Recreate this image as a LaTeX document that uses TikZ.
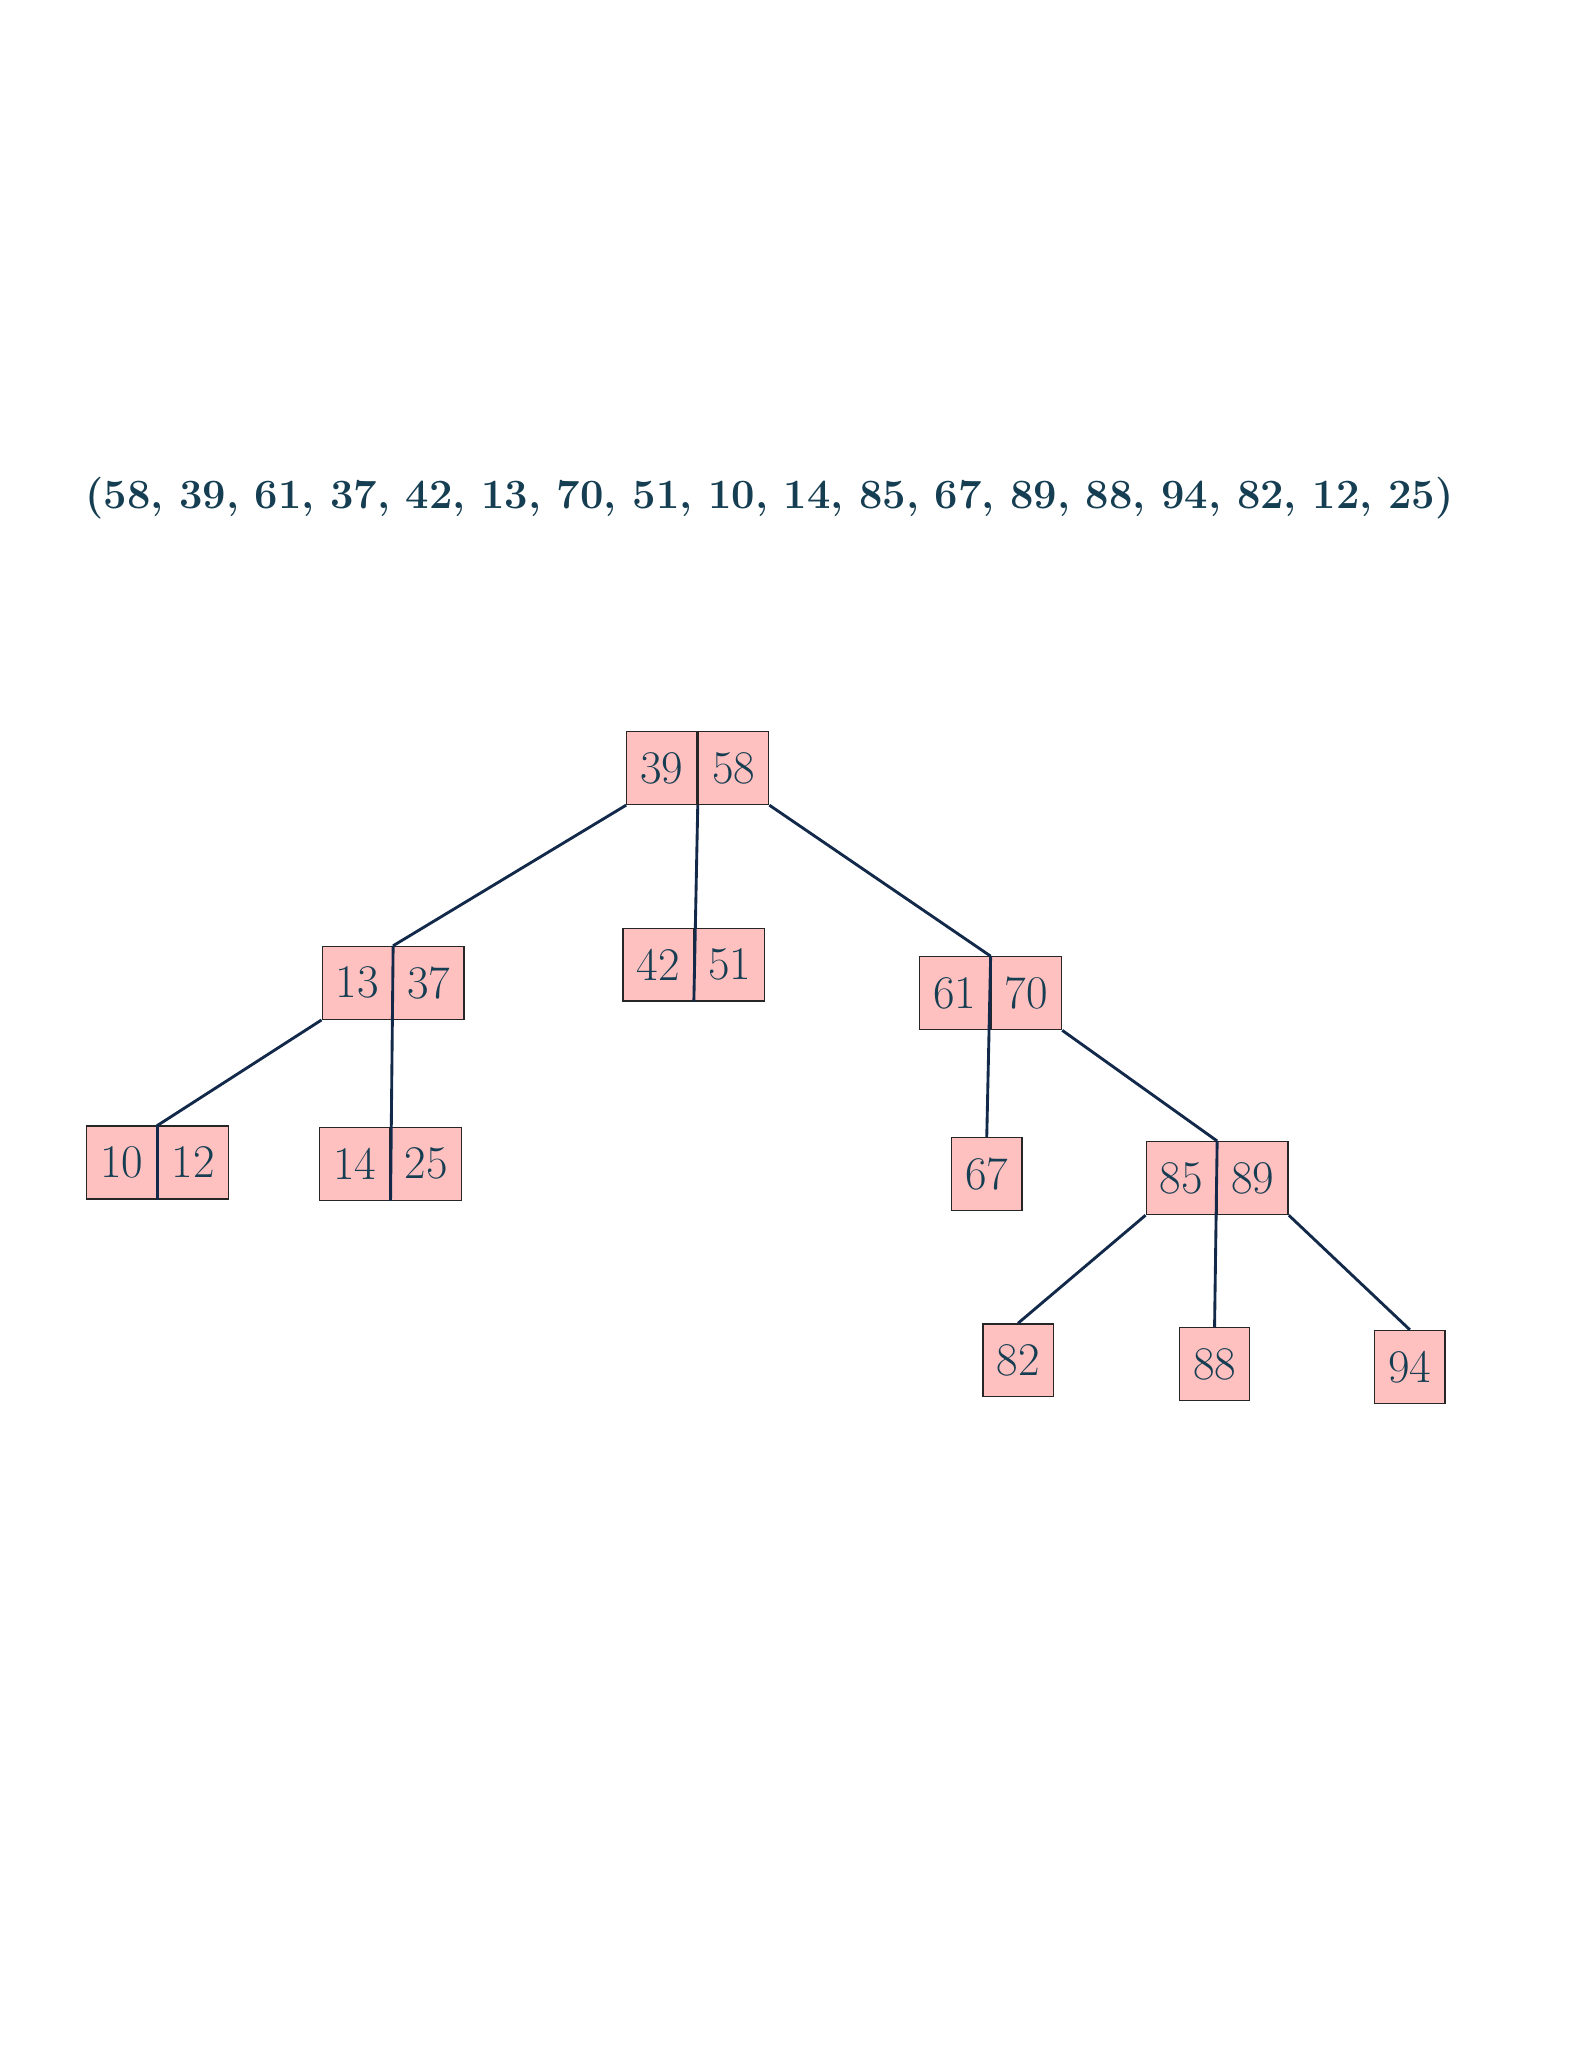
\documentclass[tikz,border=0pt]{standalone}
\usepackage{xcolor}
\definecolor{txt}{HTML}{163E52}
\definecolor{edge}{HTML}{12294A}
\definecolor{cellfill}{HTML}{FFC0C0}
\begin{document}
\begin{tikzpicture}[x=0.5pt,y=-0.5pt,
  cell/.style={draw=black!85,fill=cellfill,line width=0.5pt,minimum width=27pt,minimum height=28pt,inner sep=0pt,text=txt,font=\fontsize{18}{20}\selectfont},
  edg/.style={draw=edge,line width=1.1pt}]
\useasboundingbox (0,0) rectangle (1216,1574);
\node[text=txt,font=\fontsize{16}{18}\selectfont\bfseries] (title) at (591,383) {(58, 39, 61, 37, 42, 13, 70, 51, 10, 14, 85, 67, 89, 88, 94, 82, 12, 25)};
\newcommand{\pairnode}[5]{%
 \node[cell,anchor=east] (#1a) at (#3,#4) {#2};
 \node[cell,anchor=west] (#1b) at (#3,#4) {#5};}
\pairnode{r}{39}{536}{590}{58}
\pairnode{p}{13}{302}{755}{37}
\pairnode{q}{42}{533}{741}{51}
\pairnode{s}{61}{761}{763}{70}
\pairnode{t}{10}{121}{893}{12}
\pairnode{u}{14}{300}{894}{25}
\node[cell] (v) at (758,902) {67};
\pairnode{w}{85}{935}{905}{89}
\node[cell] (x) at (782,1045) {82};
\node[cell] (y) at (933,1048) {88};
\node[cell] (z) at (1083,1050) {94};
\draw[edg] (ra.south west) -- (pa.north east);
\draw[edg] (ra.south east) -- (qa.south east);
\draw[edg] (rb.south east) -- (sa.north east);
\draw[edg] (pa.south west) -- (ta.north east) -- (ta.south east);
\draw[edg] (pa.north east) -- (ua.south east);
\draw[edg] (sa.north east) -- (v.north);
\draw[edg] (sb.south east) -- (wa.north east);
\draw[edg] (wa.south west) -- (x.north);
\draw[edg] (wa.north east) -- (y.north);
\draw[edg] (wb.south east) -- (z.north);
\end{tikzpicture}
\end{document}
